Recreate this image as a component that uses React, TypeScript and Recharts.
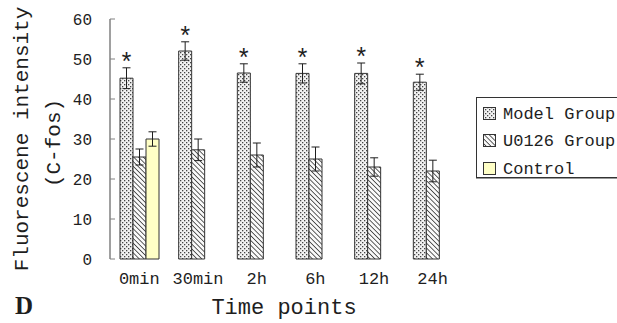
import React from "react"
import { BarChart, Bar, XAxis, YAxis, ErrorBar, LabelList, Legend } from "recharts"

// Valores
const categories = ["0min", "30min", "2h", "6h", "12h", "24h"]
const modelValues = [45.2, 52, 46.5, 46.4, 46.4, 44.2]
const modelErrors = [2.6, 2.3, 2.3, 2.4, 2.6, 2]
const u0126Values = [25.5, 27.3, 26, 25, 23, 22]
const u0126Errors = [2, 2.7, 3, 3, 2.3, 2.7]
const controlValues: (number | null)[] = [30, null, null, null, null, null]
const controlErrors: (number | null)[] = [1.8, null, null, null, null, null]
const significant = [true, true, true, true, true, true]
const yTicks = [0, 10, 20, 30, 40, 50, 60]
const edgeTicks = [0, 1, 2, 3, 4, 5, 6]

const seriesOrder = ["model", "u0126", "control"]
const seriesNames: Record<string, string> = {
  model: "Model Group",
  u0126: "U0126 Group",
  control: "Control",
}

const MONO = "'Liberation Mono', monospace"
const INK = "#1e1e1e"
const AXIS = "#808080"

const data = categories.map((name, i) => ({
  name,
  model: modelValues[i],
  modelErr: modelErrors[i],
  u0126: u0126Values[i],
  u0126Err: u0126Errors[i],
  control: controlValues[i],
  controlErr: controlErrors[i],
}))

// padrões de preenchimento (pontos e hachura)
const Patterns = ({ prefix }: { prefix: string }) => (
  <defs>
    <pattern id={`${prefix}-dots`} width="4" height="4" patternUnits="userSpaceOnUse">
      <rect width="4" height="4" fill="#f2f2f2" />
      <rect x="0" y="0" width="1.3" height="1.3" fill="#444" />
      <rect x="2" y="2" width="1.3" height="1.3" fill="#444" />
    </pattern>
    <pattern
      id={`${prefix}-hatch`}
      width="3.4"
      height="3.4"
      patternUnits="userSpaceOnUse"
      patternTransform="rotate(-45)"
    >
      <rect width="3.4" height="3.4" fill="#fafafa" />
      <line x1="0" y1="0" x2="0" y2="3.4" stroke="#2a2a2a" strokeWidth="1.5" />
    </pattern>
  </defs>
)

const fillFor = (key: string, prefix: string) => {
  if (key === "model") return `url(#${prefix}-dots)`
  if (key === "u0126") return `url(#${prefix}-hatch)`
  return "#ffffc6"
}

const renderStar = (props: any) => {
  const { x, y, width, height, value, index } = props
  if (!significant[index] || !value) return null
  const pxPerUnit = Number(height) / Number(value)
  const top = Number(y) - modelErrors[index] * pxPerUnit
  return (
    <text x={Number(x) + Number(width) / 2} y={top + 3} textAnchor="middle" fontSize={25} fontFamily={MONO} fill={INK}>
      *
    </text>
  )
}

const renderLegend = (props: any) => {
  const payload = [...(props.payload || [])].sort(
    (a: any, b: any) => seriesOrder.indexOf(a.dataKey) - seriesOrder.indexOf(b.dataKey),
  )
  return (
    <div
      style={{
        width: 170,
        height: 81,
        boxSizing: "border-box",
        border: `1px solid #333`,
        boxShadow: "0 1px 0 #999",
        background: "#fff",
        paddingTop: 0,
      }}
    >
      {payload.map((entry: any) => (
        <div
          key={entry.dataKey}
          style={{ display: "flex", alignItems: "center", height: 27.5, fontFamily: MONO, fontSize: 17, color: INK }}
        >
          <svg width={13} height={13} style={{ marginLeft: 6, marginRight: 7, marginTop: 3 }}>
            <Patterns prefix="lg" />
            <rect x={0.5} y={0.5} width={12} height={12} fill={fillFor(entry.dataKey, "lg")} stroke="#333" />
          </svg>
          <span style={{ whiteSpace: "nowrap", marginTop: 5 }}>{seriesNames[entry.dataKey]}</span>
        </div>
      ))}
    </div>
  )
}

const YTitle = () => (
  <g fill={INK} fontFamily={MONO} fontSize={21}>
    <text x={22} y={139} transform="rotate(-90, 22, 139)" textAnchor="middle" dominantBaseline="central">
      Fluorescene intensity
    </text>
    <text x={54} y={143} transform="rotate(-90, 54, 143)" textAnchor="middle" dominantBaseline="central">
      (C-fos)
    </text>
  </g>
)

const XTitle = (props: any) => {
  const { viewBox } = props
  const cx = viewBox.x + viewBox.width / 2
  return (
    <g>
      <text x={cx - 2} y={viewBox.y + 55} textAnchor="middle" fontFamily={MONO} fontSize={22} fill={INK}>
        Time points
      </text>
      <text x={15} y={viewBox.y + 55} fontFamily="'Liberation Serif', serif" fontWeight="bold" fontSize={25} fill={INK}>
        D
      </text>
    </g>
  )
}

export default function App() {
  return (
    <div style={{ width: 617, height: 323, overflow: "hidden", position: "relative", background: "#fff" }}>
      <style>{"body{margin:0}"}</style>
      <BarChart
        width={617}
        height={323}
        data={data}
        margin={{ top: 19, right: 155, left: 0, bottom: 0 }}
        barGap={0}
        barSize={13}
      >
        <Patterns prefix="bar" />
        <XAxis
          xAxisId="edge"
          type="number"
          domain={[0, 6]}
          allowDataOverflow
          ticks={edgeTicks}
          tick={false}
          mirror
          tickSize={5}
          height={0}
          stroke={AXIS}
          axisLine={{ stroke: AXIS, strokeWidth: 1.5 }}
        />
        <XAxis
          xAxisId="cat"
          dataKey="name"
          axisLine={false}
          tickLine={false}
          tickSize={0}
          tickMargin={13}
          height={64}
          interval={0}
          tick={{ fontSize: 17, fontFamily: MONO, fill: INK }}
          label={{ content: <XTitle /> }}
        />
        <YAxis
          width={110}
          domain={[0, 60]}
          ticks={yTicks}
          tickSize={-5}
          tickMargin={23}
          stroke={AXIS}
          axisLine={{ stroke: AXIS, strokeWidth: 1.5 }}
          tick={{ fontSize: 16, fontFamily: MONO, fill: INK }}
          label={{ content: <YTitle /> }}
        />
        <Legend
          layout="vertical"
          align="center"
          verticalAlign="middle"
          content={renderLegend}
          wrapperStyle={{ left: 476, top: 97, width: 170 }}
        />
        <Bar dataKey="model" xAxisId="cat" fill="url(#bar-dots)" stroke="#333" strokeWidth={1} isAnimationActive={false}>
          <ErrorBar dataKey="modelErr" width={4} stroke={INK} strokeWidth={1} />
          <LabelList dataKey="model" content={renderStar} />
        </Bar>
        <Bar dataKey="u0126" xAxisId="cat" fill="url(#bar-hatch)" stroke="#333" strokeWidth={1} isAnimationActive={false}>
          <ErrorBar dataKey="u0126Err" width={4} stroke={INK} strokeWidth={1} />
        </Bar>
        <Bar dataKey="control" xAxisId="cat" fill="#ffffc6" stroke="#333" strokeWidth={1} isAnimationActive={false}>
          <ErrorBar dataKey="controlErr" width={4} stroke={INK} strokeWidth={1} />
        </Bar>
      </BarChart>
    </div>
  )
}
